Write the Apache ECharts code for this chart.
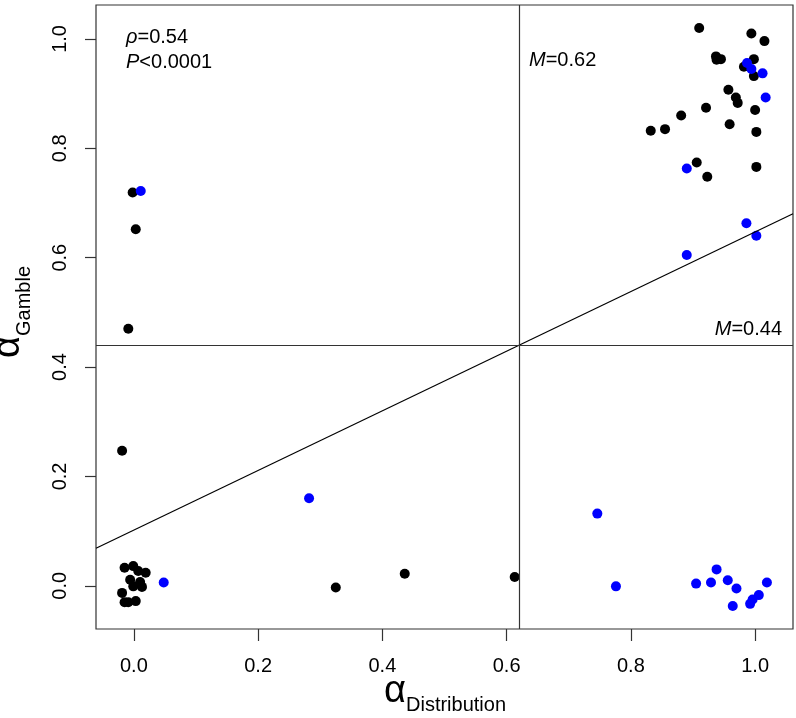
<!DOCTYPE html>
<html><head><meta charset="utf-8">
<script src="https://cdn.jsdelivr.net/npm/echarts@6/dist/echarts.min.js"></script>
<style>html,body{margin:0;padding:0;background:#fff}#c{width:796px;height:718px}</style>
</head><body><div id="c"></div>
<script>
// alpha_Distribution, alpha_Gamble — black points
const blackPoints = [
  [0.910, 1.020], [0.994, 1.010], [1.015, 0.996], [0.937, 0.968], [0.945, 0.963],
  [0.938, 0.962], [0.998, 0.963], [0.982, 0.949], [0.998, 0.932], [0.957, 0.907],
  [0.969, 0.893], [0.972, 0.883], [0.921, 0.874], [1.000, 0.870], [0.881, 0.860],
  [0.855, 0.835], [0.832, 0.832], [0.959, 0.844], [1.002, 0.830], [0.906, 0.774],
  [0.923, 0.748], [1.002, 0.766],
  [-0.002, 0.719], [0.003, 0.652], [-0.009, 0.470],
  [-0.019, 0.247],
  [0.613, 0.016], [0.436, 0.022], [0.325, -0.003],
  [-0.015, 0.033], [-0.001, 0.036], [0.007, 0.027], [0.019, 0.024], [-0.006, 0.011],
  [0.010, 0.007], [0.013, -0.002], [-0.001, -0.001], [-0.019, -0.013], [-0.015, -0.030],
  [-0.009, -0.030], [0.003, -0.028]
];
// blue points
const bluePoints = [
  [0.987, 0.956], [0.994, 0.945], [1.012, 0.937], [1.017, 0.893], [0.890, 0.763],
  [0.986, 0.663], [1.002, 0.640], [0.890, 0.605],
  [0.011, 0.722],
  [0.282, 0.160], [0.048, 0.006],
  [0.746, 0.132], [0.776, -0.001], [0.905, 0.004], [0.929, 0.006], [0.938, 0.030],
  [0.956, 0.010], [0.970, -0.005], [0.964, -0.037], [0.992, -0.033], [0.996, -0.025],
  [1.006, -0.017], [1.019, 0.006]
];
const xTicks = [0.0, 0.2, 0.4, 0.6, 0.8, 1.0];
const yTicks = [0.0, 0.2, 0.4, 0.6, 0.8, 1.0];
const medianX = 0.62;
const medianY = 0.44;
const fitIntercept = 0.102;
const fitSlope = 0.545;
const rhoText = '0.54';
const pText = '<0.0001';
const X_MIN = -0.061, X_MAX = 1.061, Y_MIN = -0.079, Y_MAX = 1.062;

const fitLine = [X_MIN, X_MAX].map(x => [x, fitIntercept + fitSlope * x]);

const FONT = "'Liberation Sans', Arial, Helvetica, sans-serif";
const chart = echarts.init(document.getElementById('c'), null, {renderer: 'canvas'});
chart.setOption({
  animation: false,
  backgroundColor: '#fff',
  grid: {left: 96, right: 3, top: 5, bottom: 89, show: true, borderColor: '#333', borderWidth: 1.2, backgroundColor: 'transparent'},
  xAxis: {
    type: 'value', min: X_MIN, max: X_MAX,
    axisLine: {show: false, onZero: false},
    splitLine: {show: false},
    axisTick: {show: true, length: 12, customValues: xTicks, lineStyle: {color: '#333', width: 1.2}},
    axisLabel: {customValues: xTicks, margin: 27, fontSize: 20, color: '#000', fontFamily: FONT,
      formatter: v => v.toFixed(1)}
  },
  yAxis: {
    type: 'value', min: Y_MIN, max: Y_MAX,
    axisLine: {show: false, onZero: false},
    splitLine: {show: false},
    axisTick: {show: true, length: 11, customValues: yTicks, lineStyle: {color: '#333', width: 1.2}},
    axisLabel: {customValues: yTicks, margin: 26, rotate: 90, fontSize: 20, color: '#000', fontFamily: FONT,
      formatter: v => v.toFixed(1)}
  },
  series: [
    {
      type: 'line', data: fitLine, symbol: 'none', silent: true,
      lineStyle: {color: '#000', width: 1.2},
      markLine: {
        silent: true, symbol: 'none', label: {show: false},
        lineStyle: {color: '#333', width: 1.2, type: 'solid'},
        data: [{xAxis: medianX}, {yAxis: medianY}]
      }
    },
    {type: 'scatter', data: blackPoints, symbolSize: 10, itemStyle: {color: '#000', opacity: 1}, silent: true},
    {type: 'scatter', data: bluePoints, symbolSize: 10, itemStyle: {color: '#0000ff', opacity: 1}, silent: true}
  ],
  graphic: [
    {type: 'text', x: 126, y: 37, style: {text: '{i|ρ}=' + rhoText, fontSize: 20, fontFamily: FONT, fill: '#000', verticalAlign: 'middle', align: 'left',
      rich: {i: {fontStyle: 'italic', fontSize: 20, fontFamily: FONT}}}},
    {type: 'text', x: 126, y: 62, style: {text: '{i|P}' + pText, fontSize: 20, fontFamily: FONT, fill: '#000', verticalAlign: 'middle', align: 'left',
      rich: {i: {fontStyle: 'italic', fontSize: 20, fontFamily: FONT}}}},
    {type: 'text', x: 529, y: 60, style: {text: '{i|M}=' + medianX.toFixed(2), fontSize: 20, fontFamily: FONT, fill: '#000', verticalAlign: 'middle', align: 'left',
      rich: {i: {fontStyle: 'italic', fontSize: 20, fontFamily: FONT}}}},
    {type: 'text', x: 782, y: 329, style: {text: '{i|M}=' + medianY.toFixed(2), fontSize: 20, fontFamily: FONT, fill: '#000', verticalAlign: 'middle', align: 'right',
      rich: {i: {fontStyle: 'italic', fontSize: 20, fontFamily: FONT}}}},
    // x axis title
    {type: 'text', x: 395, y: 692, style: {text: 'α', fontSize: 38, fontFamily: FONT, fill: '#000', align: 'center', verticalAlign: 'middle'}},
    {type: 'text', x: 406, y: 705, style: {text: 'Distribution', fontSize: 20, fontFamily: FONT, fill: '#000', align: 'left', verticalAlign: 'middle'}},
    // y axis title
    {type: 'text', x: 9, y: 347, rotation: Math.PI / 2, style: {text: 'α', fontSize: 38, fontFamily: FONT, fill: '#000', align: 'center', verticalAlign: 'middle'}},
    {type: 'text', x: 24, y: 336, rotation: Math.PI / 2, style: {text: 'Gamble', fontSize: 20, fontFamily: FONT, fill: '#000', align: 'left', verticalAlign: 'middle'}}
  ]
});
</script>
</body></html>
